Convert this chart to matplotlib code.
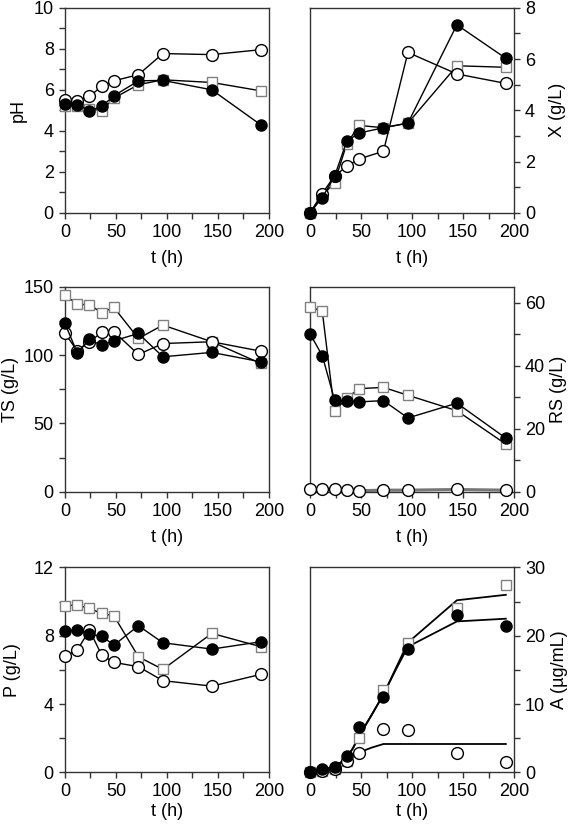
import numpy as np
import matplotlib
matplotlib.use("Agg")
import matplotlib.pyplot as plt
from matplotlib.ticker import MultipleLocator

plt.rcParams['font.family'] = ['Liberation Sans', 'DejaVu Sans']
plt.rcParams['font.size'] = 13

# sampling times (h)
t = [0, 12, 24, 36, 48, 72, 96, 144, 192]

# pH
ph_sq = [5.22, 5.22, 5.06, 4.99, 5.6, 6.25, 6.49, 6.36, 5.95]
ph_open = [5.51, 5.47, 5.68, 6.17, 6.44, 6.74, 7.77, 7.72, 7.96]
ph_fill = [5.32, 5.27, 4.98, 5.19, 5.71, 6.44, 6.46, 6.0, 4.29]

# biomass X (g/L)
x_sq = [0, 0.66, 1.18, 2.69, 3.41, 3.32, 3.5, 5.74, 5.68]
x_open = [0, 0.75, 1.44, 1.81, 2.10, 2.40, 6.26, 5.42, 5.05]
x_fill = [0, 0.59, 1.42, 2.79, 3.11, 3.32, 3.50, 7.34, 6.03]

# total sugar TS (g/L)
ts_sq = [143.9, 137.3, 136.8, 131.2, 134.9, 112.2, 122.0, 109.8, 93.9]
ts_open = [115.9, 103.2, 109.8, 116.6, 117.1, 100.5, 108.5, 109.8, 102.9]
ts_fill = [123.2, 101.7, 111.5, 107.1, 110.5, 115.9, 98.8, 102.0, 95.1]

# reducing sugar RS (g/L)
rs_sq = [58.6, 57.3, 25.5, 29.7, 32.7, 33.1, 30.6, 25.7, 15.1]
rs_open = [0.7, 0.85, 0.7, 0.5, 0.3, 0.5, 0.5, 0.7, 0.5]
rs_fill = [50.1, 43.2, 29.2, 28.7, 28.5, 28.9, 23.4, 28.1, 17.0]

# P (g/L)
p_sq = [9.76, 9.8, 9.6, 9.31, 9.17, 6.77, 6.03, 8.14, 7.36]
p_open = [6.81, 7.16, 8.33, 6.87, 6.44, 6.19, 5.37, 5.05, 5.74]
p_fill = [8.27, 8.33, 8.08, 7.98, 7.45, 8.59, 7.59, 7.22, 7.65]

# A (ug/mL) measured
a_sq = [0, 0.2, 0.5, 1.7, 5.0, 12.1, 18.9, 24.0, 27.4]
a_open = [0, 0.2, 0.44, 1.7, 2.8, 6.3, 6.2, 2.9, 1.57]
a_fill = [0.1, 0.44, 0.83, 2.45, 6.57, 11.1, 18.1, 23.1, 21.5]

# A model curves
tm = [0, 12, 24, 30, 36, 42, 48, 60, 72, 84, 96, 144, 192]
am_sq = [0.2, 0.4, 0.8, 1.4, 2.2, 3.5, 5.3, 8.3, 11.4, 15.2, 19.0, 25.2, 26.0]
am_fill = [0.2, 0.4, 0.8, 1.4, 2.2, 3.5, 5.3, 8.3, 11.4, 15.0, 18.4, 22.1, 22.5]
tm_open = [0, 12, 24, 36, 48, 60, 72, 96, 144, 192]
am_open = [0.2, 0.4, 0.8, 2.0, 2.9, 3.6, 4.15, 4.15, 4.15, 4.15]

fig = plt.figure(figsize=(5.72, 8.31), dpi=100)

lefts = [0.1136, 0.542]
bottoms = [0.744, 0.4083, 0.0706]
w, h = 0.3566, 0.2465
xlab_y = [-0.183, -0.183, -0.148]

sq = dict(marker='s', ms=7.5, mfc='white', mec='#808080', mew=1.0, color='black', lw=1.0, clip_on=False)
oc = dict(marker='o', ms=8.5, mfc='white', mec='black', mew=1.0, color='black', lw=1.0, clip_on=False)
fc = dict(marker='o', ms=8, mfc='black', mec='black', color='black', lw=1.0, clip_on=False)


def style(ax, ymax, major, ylabel, row, ylab_x, right=False):
    ax.set_xlim(0, 200)
    ax.set_ylim(0, ymax)
    ax.xaxis.set_major_locator(MultipleLocator(50))
    ax.xaxis.set_minor_locator(MultipleLocator(25))
    ax.yaxis.set_major_locator(MultipleLocator(major))
    ax.yaxis.set_minor_locator(MultipleLocator(major / 2))
    ax.tick_params(which='both', direction='out', color='#333333', width=1)
    ax.tick_params(which='major', length=4, pad=4)
    ax.tick_params(which='minor', length=4)
    for s in ax.spines.values():
        s.set_color('#333333')
        s.set_linewidth(1)
    ax.set_xlabel('t (h)')
    ax.xaxis.set_label_coords(0.5, xlab_y[row], transform=ax.transAxes)
    if right:
        ax.yaxis.tick_right()
        ax.yaxis.set_label_position('right')
    ax.set_ylabel(ylabel)
    ax.yaxis.set_label_coords(ylab_x, 0.5, transform=ax.transAxes)
    ax.yaxis.label.set_va('center')


panels = [
    (0, 0, ph_sq, ph_open, ph_fill, 10, 2, 'pH', -0.23),
    (1, 0, x_sq, x_open, x_fill, 8, 2, 'X (g/L)', 1.215),
    (0, 1, ts_sq, ts_open, ts_fill, 150, 50, 'TS (g/L)', -0.265),
    (1, 1, rs_sq, rs_open, rs_fill, 65, 20, 'RS (g/L)', 1.22),
    (0, 2, p_sq, p_open, p_fill, 12, 4, 'P (g/L)', -0.255),
]

for col, row, s_, o_, f_, ymax, major, lab, lx in panels:
    ax = fig.add_axes([lefts[col], bottoms[row], w, h])
    ax.plot(t, s_, **sq, zorder=3)
    if lab.startswith('RS'):
        ax.plot(t, o_, color='#777777', lw=2.2, zorder=2, clip_on=False)
        ax.plot(t, o_, linestyle='none', **{k: v for k, v in oc.items() if k not in ('color', 'lw')}, zorder=4)
    else:
        ax.plot(t, o_, **oc, zorder=4)
    ax.plot(t, f_, **fc, zorder=5)
    style(ax, ymax, major, lab, row, lx, right=(col == 1))
    if lab.startswith('RS'):
        ax.yaxis.set_minor_locator(MultipleLocator(10))

# A panel
ax = fig.add_axes([lefts[1], bottoms[2], w, h])
ax.plot(tm, am_sq, color='black', lw=1.3, zorder=2)
ax.plot(tm, am_fill, color='black', lw=1.3, zorder=2)
ax.plot(tm_open, am_open, color='black', lw=1.3, zorder=2)
ax.plot(t, a_sq, linestyle='none', marker='s', ms=7.5, mfc='white', mec='#808080', mew=1.0, clip_on=False, zorder=3)
ax.plot(t, a_open, linestyle='none', marker='o', ms=8.5, mfc='white', mec='black', mew=1.0, clip_on=False, zorder=4)
ax.plot(t, a_fill, linestyle='none', marker='o', ms=8, mfc='black', mec='black', clip_on=False, zorder=5)
style(ax, 30, 10, 'A (\u00b5g/mL)', 2, 1.225, right=True)

fig.savefig('out.png', dpi=100)
